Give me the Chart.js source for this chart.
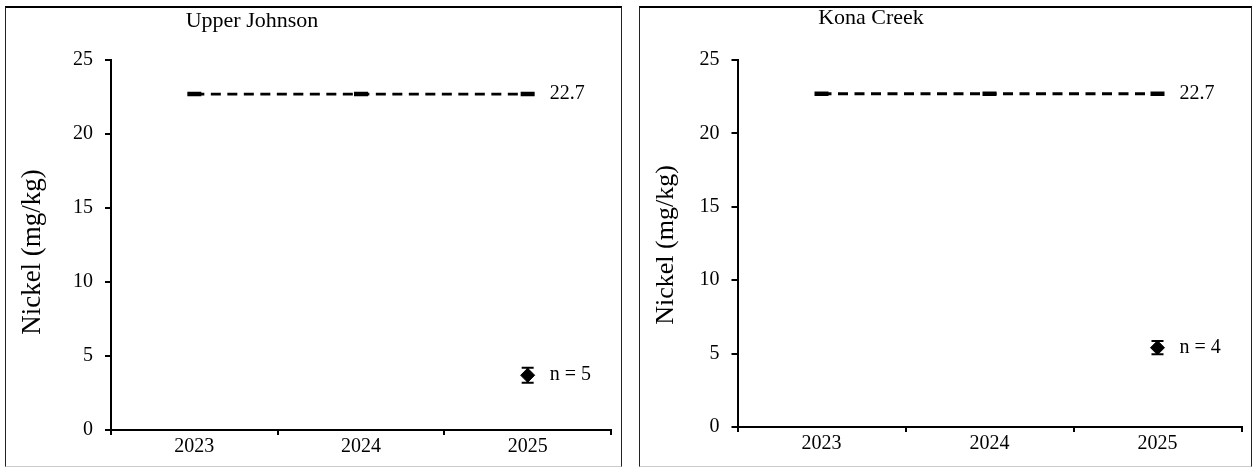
<!DOCTYPE html>
<html>
<head>
<meta charset="utf-8">
<script src="https://cdn.jsdelivr.net/npm/chart.js@4/dist/chart.umd.min.js"></script>
<style>
  html, body { margin:0; padding:0; background:#fff; width:1253px; height:468px; overflow:hidden; }
  .panel { position:absolute; box-sizing:border-box; border-left:1.5px solid #222; border-right:1.5px solid #222; border-top:2px solid #000; border-bottom:1px solid #ccc; pointer-events:none; }
  canvas { position:absolute; top:0; }
</style>
</head>
<body>
<canvas id="c1" width="628" height="468" style="left:0px"></canvas>
<canvas id="c2" width="623" height="468" style="left:630px"></canvas>
<div class="panel" style="left:5px; top:6px; width:617px; height:461px;"></div>
<div class="panel" style="left:639px; top:6px; width:613px; height:461px;"></div>
<script>
// ---- data ----
const years = ["2023", "2024", "2025"];
const yTicks = [0, 5, 10, 15, 20, 25];
const titles = ["Upper Johnson", "Kona Creek"];
const refValue = [22.7, 22.7, 22.7];            // guideline (dashed)
const upperJohnsonMean = [null, null, 3.7];
const upperJohnsonErr  = [null, null, 0.5];
const upperJohnsonN    = [null, null, 5];
const konaCreekMean    = [null, null, 5.4];
const konaCreekErr     = [null, null, 0.45];
const konaCreekN       = [null, null, 4];
const yLabel = "Nickel (mg/kg)";

const FONT = "'Liberation Serif', 'Times New Roman', serif";

function makeChart(id, cfg) {
  const extras = {
    id: 'extras',
    afterDatasetsDraw(chart) {
      const ctx = chart.ctx;
      const xs = chart.scales.x, ys = chart.scales.y;
      ctx.save();
      ctx.strokeStyle = '#000';
      ctx.fillStyle = '#000';
      ctx.lineWidth = 2;
      // error bars
      cfg.mean.forEach((v, i) => {
        if (v == null) return;
        const x = xs.getPixelForValue(i);
        const yT = ys.getPixelForValue(v + cfg.err[i]);
        const yB = ys.getPixelForValue(v - cfg.err[i]);
        ctx.beginPath();
        ctx.moveTo(x, yT); ctx.lineTo(x, yB);
        ctx.moveTo(x - 6, yT); ctx.lineTo(x + 6, yT);
        ctx.moveTo(x - 6, yB); ctx.lineTo(x + 6, yB);
        ctx.stroke();
        // n label
        ctx.font = "20px " + FONT;
        ctx.textBaseline = 'middle';
        ctx.textAlign = 'left';
        ctx.fillText("n = " + cfg.n[i], x + 22, ys.getPixelForValue(v));
      });
      // reference value label
      const last = refValue.length - 1;
      ctx.font = "20px " + FONT;
      ctx.textBaseline = 'middle';
      ctx.textAlign = 'left';
      ctx.fillText(String(refValue[last]), xs.getPixelForValue(last) + 22, ys.getPixelForValue(refValue[last]));
      // chart title
      ctx.font = "22px " + FONT;
      ctx.textAlign = 'center';
      ctx.fillText(cfg.title, cfg.titleX, cfg.titleY);
      // y axis title
      ctx.translate(cfg.yTitleX, cfg.yTitleY);
      ctx.rotate(-Math.PI / 2);
      ctx.font = cfg.yTitleSize + "px " + FONT;
      ctx.textAlign = 'center';
      ctx.textBaseline = 'middle';
      ctx.fillText(yLabel, 0, 0);
      ctx.restore();
    }
  };

  return new Chart(document.getElementById(id), {
    type: 'line',
    data: {
      labels: years,
      datasets: [
        {
          data: refValue,
          borderColor: '#000',
          backgroundColor: '#000',
          borderWidth: 2.8,
          borderDash: [10, 6.5],
          pointStyle: 'line',
          pointRadius: 7,
          pointBorderWidth: 4.5,
          pointBorderColor: '#000',
          fill: false
        },
        {
          data: cfg.mean,
          showLine: false,
          pointStyle: 'rectRot',
          pointRadius: 7,
          pointBackgroundColor: '#000',
          pointBorderColor: '#000',
          pointBorderWidth: 1
        }
      ]
    },
    options: {
      responsive: false,
      animation: false,
      events: [],
      layout: { padding: { left: 0, top: cfg.top, right: cfg.right, bottom: 0 } },
      plugins: { legend: { display: false }, title: { display: false }, tooltip: { enabled: false } },
      scales: {
        x: {
          type: 'category',
          offset: true,
          grid: { offset: true, drawOnChartArea: false, drawTicks: true, tickLength: 5, color: '#000', lineWidth: 2 },
          border: { display: true, color: '#000', width: 2 },
          ticks: { color: '#000', font: { family: FONT, size: 20 }, padding: 0, maxRotation: 0 },
          afterFit(s) { s.height = cfg.xH; }
        },
        y: {
          min: 0, max: 25,
          afterBuildTicks(s) { s.ticks = yTicks.map(v => ({ value: v })); },
          grid: { drawOnChartArea: false, drawTicks: true, tickLength: 6, color: '#000', lineWidth: 2 },
          border: { display: true, color: '#000', width: 2 },
          ticks: { color: '#000', font: { family: FONT, size: 20 }, padding: 12 },
          afterFit(s) { s.width = cfg.yW; }
        }
      }
    },
    plugins: [extras]
  });
}

makeChart('c1', {
  mean: upperJohnsonMean, err: upperJohnsonErr, n: upperJohnsonN,
  title: titles[0], titleX: 252, titleY: 21,
  yTitleX: 33, yTitleY: 252, yTitleSize: 27,
  top: 60, right: 17, xH: 38, yW: 111
});
makeChart('c2', {
  mean: konaCreekMean, err: konaCreekErr, n: konaCreekN,
  title: titles[1], titleX: 241, titleY: 18,
  yTitleX: 36, yTitleY: 245, yTitleSize: 26,
  top: 60, right: 10.5, xH: 41, yW: 107.5
});
</script>
</body>
</html>
